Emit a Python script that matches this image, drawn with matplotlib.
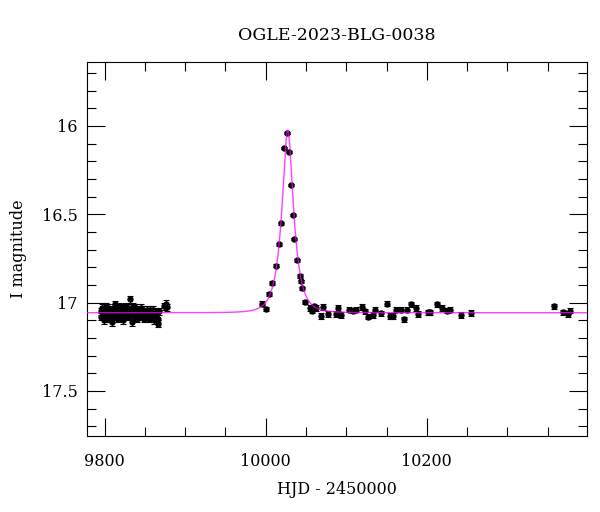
"""Light curve of OGLE-2023-BLG-0038 with a point-lens model."""
import matplotlib
matplotlib.use('Agg')
import matplotlib.pyplot as plt
from matplotlib.ticker import MultipleLocator, FuncFormatter
import numpy as np

plt.rcParams['font.family'] = ['DejaVu Serif']

# 2022 season baseline (HJD - 2450000, I mag)
base_t = [9795.1, 9795.9, 9796.8, 9797.6, 9798.5, 9799.3, 9800.2, 9801.0, 9801.9, 9802.7,
          9803.6, 9804.4, 9805.3, 9806.1, 9807.0, 9807.8, 9808.7, 9809.5, 9810.4, 9811.2,
          9812.1, 9812.9, 9813.8, 9814.6, 9815.5, 9816.3, 9817.2, 9818.0, 9818.9, 9819.7,
          9820.6, 9821.4, 9822.3, 9823.1, 9824.0, 9824.8, 9825.7, 9826.5, 9827.4, 9828.2,
          9829.1, 9829.9, 9830.8, 9831.6, 9832.5, 9833.3, 9834.2, 9835.0, 9835.9, 9836.7,
          9837.6, 9838.4, 9839.3, 9840.1, 9841.0, 9841.8, 9842.7, 9843.5, 9844.4, 9845.2,
          9846.1, 9846.9, 9847.8, 9848.6, 9849.5, 9850.3, 9851.2, 9852.0, 9852.9, 9853.7,
          9854.6, 9855.4, 9856.3, 9857.1, 9858.0, 9858.8, 9859.7, 9860.5, 9861.4, 9862.2,
          9863.1, 9863.9, 9864.8, 9865.6, 9866.5, 9867.3, 9873.5, 9875.8, 9877.2]
base_mag = [17.05, 17.08, 17.03, 17.07, 17.10, 17.04, 17.06, 17.02, 17.09, 17.05,
            17.07, 17.03, 17.08, 17.06, 17.04, 17.09, 17.11, 17.05, 17.07, 17.03,
            17.06, 17.01, 17.08, 17.04, 17.06, 17.09, 17.02, 17.05, 17.07, 17.04,
            17.08, 17.03, 17.06, 17.10, 17.05, 17.02, 17.07, 17.04, 17.06, 17.08,
            17.03, 17.05, 16.98, 17.07, 17.04, 17.11, 17.06, 17.02, 17.05, 17.08,
            17.04, 17.06, 17.03, 17.09, 17.05, 17.07, 17.04, 17.06, 17.08, 17.03,
            17.05, 17.07, 17.04, 17.09, 17.06, 17.05, 17.08, 17.04, 17.06, 17.07,
            17.05, 17.09, 17.04, 17.06, 17.08, 17.05, 17.07, 17.04, 17.10, 17.06,
            17.05, 17.08, 17.06, 17.09, 17.12, 17.05, 17.02, 17.005, 17.025]
base_err = 0.02

# 2023 season: event and after
event_t = [9995.5, 10000.0, 10004.6, 10008.3, 10012.4, 10016.1, 10018.6, 10023.2, 10027.0,
           10029.4, 10031.9, 10033.9, 10035.5, 10039.4, 10042.2, 10043.4, 10045.0, 10049.3,
           10054.7, 10058.0, 10060.0, 10063.0, 10068.3, 10071.2, 10077.9, 10087.0, 10089.8,
           10094.0, 10104.0, 10108.5, 10112.7, 10119.0, 10123.0, 10127.0, 10133.3, 10135.4,
           10143.7, 10150.0, 10154.0, 10158.0, 10162.3, 10168.6, 10171.8, 10176.0, 10180.0,
           10186.0, 10189.0, 10201.6, 10204.6, 10212.8, 10218.3, 10225.2, 10228.6, 10243.0,
           10255.5, 10357.8, 10368.6, 10375.5, 10378.5]
event_mag = [17.005, 17.035, 16.95, 16.89, 16.79, 16.67, 16.55, 16.125, 16.04,
             16.145, 16.335, 16.505, 16.64, 16.76, 16.85, 16.88, 16.92, 16.995,
             17.03, 17.045, 17.02, 17.03, 17.075, 17.025, 17.065, 17.065, 17.03,
             17.07, 17.04, 17.045, 17.04, 17.025, 17.05, 17.08, 17.07, 17.04,
             17.06, 17.005, 17.075, 17.075, 17.04, 17.04, 17.095, 17.04, 17.01,
             17.03, 17.065, 17.055, 17.055, 17.01, 17.03, 17.045, 17.04, 17.07,
             17.06, 17.02, 17.055, 17.065, 17.045]
event_err = [0.012, 0.012, 0.01, 0.01, 0.01, 0.008, 0.008, 0.006, 0.006,
             0.006, 0.007, 0.007, 0.008, 0.009, 0.01, 0.01, 0.01, 0.012,
             0.015, 0.015, 0.015, 0.015, 0.015, 0.015, 0.015, 0.015, 0.015,
             0.015, 0.015, 0.015, 0.015, 0.015, 0.015, 0.015, 0.015, 0.015,
             0.015, 0.015, 0.015, 0.015, 0.015, 0.015, 0.015, 0.015, 0.015,
             0.015, 0.015, 0.015, 0.015, 0.015, 0.015, 0.015, 0.015, 0.015,
             0.018, 0.015, 0.015, 0.015, 0.015]

# Point-source point-lens fit parameters
t0 = 10027.3
tE = 13.5
u0 = 0.41
I_base = 17.057

fig = plt.figure(figsize=(6, 5.12), dpi=100)
ax = fig.add_axes([87 / 600, 76 / 512, 500 / 600, 374 / 512])

ax.errorbar(base_t, base_mag, yerr=base_err, fmt='o', color='black', ms=3.6,
            elinewidth=0.8, capsize=2.5, capthick=0.8, zorder=2)
ax.errorbar(event_t, event_mag, yerr=event_err, fmt='o', color='black', ms=3.6,
            elinewidth=0.8, capsize=2.5, capthick=0.8, zorder=2)

# model curve
tm = np.linspace(9770, 10410, 3000)
u = np.sqrt(u0 ** 2 + ((tm - t0) / tE) ** 2)
A = (u ** 2 + 2) / (u * np.sqrt(u ** 2 + 4))
ax.plot(tm, I_base - 2.5 * np.log10(A), color='#ff00ff', lw=1.0, alpha=0.75, zorder=3)

ax.set_xlim(9778, 10399)
ax.set_ylim(17.755, 15.638)

ax.xaxis.set_major_locator(MultipleLocator(200))
ax.xaxis.set_minor_locator(MultipleLocator(50))
ax.yaxis.set_major_locator(MultipleLocator(0.5))
ax.yaxis.set_minor_locator(MultipleLocator(0.1))
ax.yaxis.set_major_formatter(FuncFormatter(lambda v, p: f'{v:g}'))

ax.tick_params(which='both', direction='in', top=True, right=True, width=0.8,
               labelsize=11.5)
ax.tick_params(which='major', length=13)
ax.tick_params(which='minor', length=6.5)
ax.tick_params(axis='x', pad=12)
ax.tick_params(axis='y', pad=6.5)
for spine in ax.spines.values():
    spine.set_linewidth(0.8)

ax.set_title('OGLE-2023-BLG-0038', fontsize=12.5, pad=16)
ax.set_xlabel('HJD - 2450000', fontsize=11.5, labelpad=8)
ax.set_ylabel('I magnitude', fontsize=11.5, labelpad=11)

plt.savefig('out.png', dpi=100)
plt.close(fig)
